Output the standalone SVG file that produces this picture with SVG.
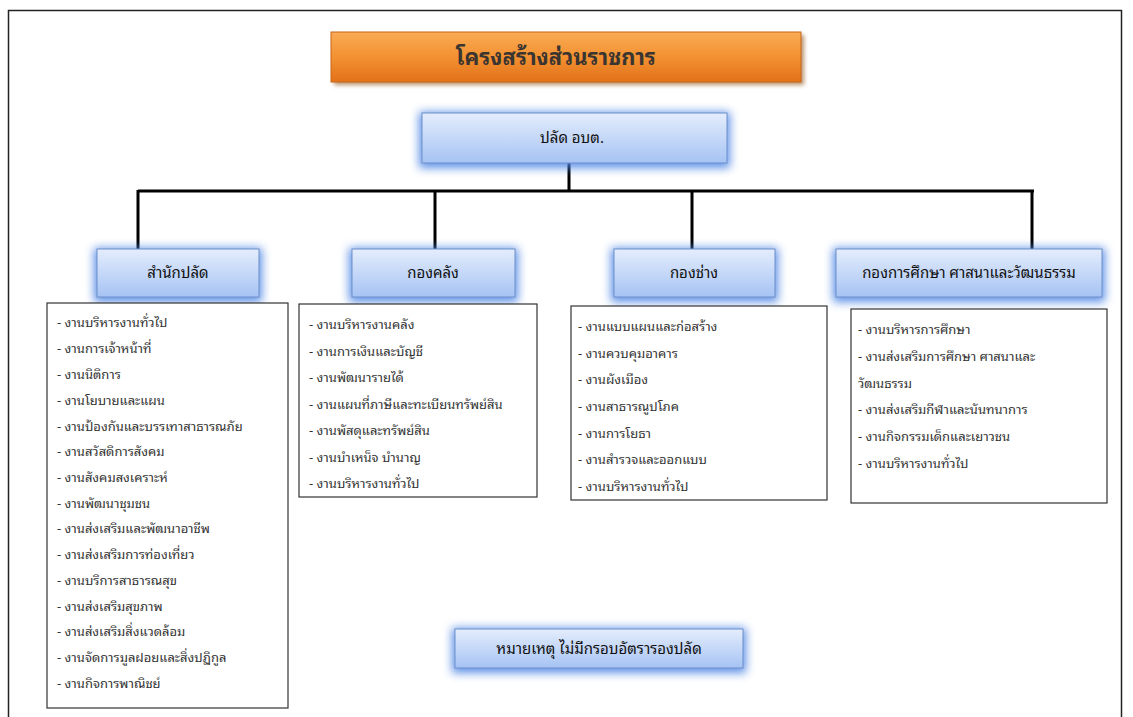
<svg xmlns="http://www.w3.org/2000/svg" width="1133" height="717" viewBox="0 0 1133 717">
<style>
.t{font-family:"Noto Sans Thai Looped","Loma","Garuda","Waree","Noto Sans Thai","Noto Sans Thai UI",Tahoma,"Noto Sans","DejaVu Sans",sans-serif;}
.item{font-size:13px;fill:#333}
.head{font-size:15px;fill:#111;text-anchor:middle}
.list{fill:#fff;stroke:#333;stroke-width:1.2}
.blue{fill:url(#gb);stroke:#6d8fc9;stroke-width:1}
.glow{fill:#4f86e4;opacity:0.9;filter:url(#glow)}
.conn{stroke:#000;stroke-width:3;fill:none}
</style>
<defs>
<linearGradient id="gb" x1="0" y1="0" x2="0" y2="1"><stop offset="0" stop-color="#e4edfc"/><stop offset="1" stop-color="#a6c3f4"/></linearGradient>
<linearGradient id="go" x1="0" y1="0" x2="0" y2="1"><stop offset="0" stop-color="#f9ab55"/><stop offset="0.5" stop-color="#f39131"/><stop offset="1" stop-color="#e2711a"/></linearGradient>
<filter id="glow" x="-25%" y="-60%" width="150%" height="220%"><feGaussianBlur stdDeviation="5"/></filter>
<filter id="sh" x="-10%" y="-30%" width="120%" height="160%"><feGaussianBlur stdDeviation="2"/></filter>
</defs>
<rect x="0" y="0" width="1133" height="717" fill="#fff"/>
<rect id="frame" x="8.5" y="10.5" width="1113" height="720" fill="none" stroke="#222" stroke-width="1.5"/>

<g id="connectors">
<path class="conn" d="M569 163 V191 M138 191 H1034 M138 190 V249 M435 190 V249 M692 190 V249 M1032 190 V249"/>
</g>

<g id="title">
<rect x="334" y="35" width="470" height="50" fill="#8a4a10" opacity="0.6" filter="url(#sh)"/>
<rect x="331" y="32" width="470" height="50" fill="url(#go)" stroke="#c8661a" stroke-width="1"/>
<text class="t" x="556" y="65" text-anchor="middle" font-size="22" font-weight="bold" fill="#3a3530">โครงสร้างส่วนราชการ</text>
</g>

<g id="palad">
<rect class="glow" x="419" y="112" width="311" height="56"/>
<rect class="blue" x="422" y="113" width="305" height="50"/>
<text class="t head" x="572" y="143">ปลัด อบต.</text>
</g>

<g id="office">
<rect class="glow" x="94" y="248" width="168" height="54"/>
<rect class="blue" x="97" y="249" width="162" height="48"/>
<text class="t head" x="178" y="278">สำนักปลัด</text>
<rect class="list" x="47" y="303" width="241" height="405"/>
<g class="t item">
<text x="57" y="327">- งานบริหารงานทั่วไป</text>
<text x="57" y="353">- งานการเจ้าหน้าที่</text>
<text x="57" y="379">-  งานนิติการ</text>
<text x="57" y="405">- งานโยบายและแผน</text>
<text x="57" y="431">- งานป้องกันและบรรเทาสาธารณภัย</text>
<text x="57" y="456">- งานสวัสดิการสังคม</text>
<text x="57" y="482">- งานสังคมสงเคราะห์</text>
<text x="57" y="508">-  งานพัฒนาชุมชน</text>
<text x="57" y="533">- งานส่งเสริมและพัฒนาอาชีพ</text>
<text x="57" y="559">- งานส่งเสริมการท่องเที่ยว</text>
<text x="57" y="585">- งานบริการสาธารณสุข</text>
<text x="57" y="611">- งานส่งเสริมสุขภาพ</text>
<text x="57" y="636">- งานส่งเสริมสิ่งแวดล้อม</text>
<text x="57" y="662">- งานจัดการมูลฝอยและสิ่งปฏิกูล</text>
<text x="57" y="688">- งานกิจการพาณิชย์</text>
</g>
</g>

<g id="finance">
<rect class="glow" x="349" y="248" width="169" height="54"/>
<rect class="blue" x="352" y="249" width="163" height="48"/>
<text class="t head" x="433" y="278">กองคลัง</text>
<rect class="list" x="299" y="304" width="238" height="193"/>
<g class="t item">
<text x="309" y="329">- งานบริหารงานคลัง</text>
<text x="309" y="356">- งานการเงินและบัญชี</text>
<text x="309" y="382">- งานพัฒนารายได้</text>
<text x="309" y="409">- งานแผนที่ภาษีและทะเบียนทรัพย์สิน</text>
<text x="309" y="435">- งานพัสดุและทรัพย์สิน</text>
<text x="309" y="462">- งานบำเหน็จ บำนาญ</text>
<text x="309" y="488">- งานบริหารงานทั่วไป</text>
</g>
</g>

<g id="works">
<rect class="glow" x="611" y="248" width="167" height="54"/>
<rect class="blue" x="614" y="249" width="161" height="48"/>
<text class="t head" x="694" y="278">กองช่าง</text>
<rect class="list" x="571" y="306" width="256" height="194"/>
<g class="t item">
<text x="578" y="331">- งานแบบแผนและก่อสร้าง</text>
<text x="578" y="358">- งานควบคุมอาคาร</text>
<text x="578" y="384">- งานผังเมือง</text>
<text x="578" y="411">- งานสาธารณูปโภค</text>
<text x="578" y="438">- งานการโยธา</text>
<text x="578" y="464">- งานสำรวจและออกแบบ</text>
<text x="578" y="491">- งานบริหารงานทั่วไป</text>
</g>
</g>

<g id="education">
<rect class="glow" x="833" y="248" width="272" height="54"/>
<rect class="blue" x="836" y="249" width="266" height="48"/>
<text class="t head" x="969" y="278">กองการศึกษา ศาสนาและวัฒนธรรม</text>
<rect class="list" x="851" y="309" width="256" height="194"/>
<g class="t item">
<text x="858" y="334">- งานบริหารการศึกษา</text>
<text x="858" y="361">- งานส่งเสริมการศึกษา ศาสนาและ</text>
<text x="858" y="388">วัฒนธรรม</text>
<text x="858" y="414">- งานส่งเสริมกีฬาและนันทนาการ</text>
<text x="858" y="441">- งานกิจกรรมเด็กและเยาวชน</text>
<text x="858" y="468">- งานบริหารงานทั่วไป</text>
</g>
</g>

<g id="note">
<rect class="glow" x="452" y="628" width="294" height="45"/>
<rect class="blue" x="455" y="629" width="288" height="39"/>
<text class="t head" x="599" y="654">หมายเหตุ ไม่มีกรอบอัตรารองปลัด</text>
</g>
</svg>
